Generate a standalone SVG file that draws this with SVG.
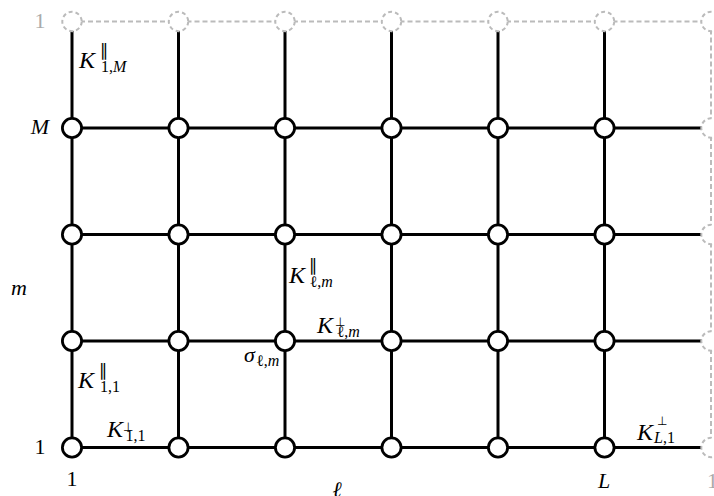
<svg xmlns="http://www.w3.org/2000/svg" width="714" height="496" viewBox="0 0 714 496">
<style>
.e{stroke:#000;stroke-width:3;fill:none}
.ed{stroke:#bbb;stroke-width:2;stroke-dasharray:5 3;fill:none}
.n{fill:#fff;stroke:#000;stroke-width:2.8}
.d{fill:#fff;stroke:#bbb;stroke-width:2;stroke-dasharray:4 3}
.t{font-family:"Liberation Serif","Times New Roman",serif;font-size:22px;fill:#000}
.i{font-style:italic}
.g{fill:#aaa}
.k{font-family:"Liberation Serif","Times New Roman",serif;font-size:24px;font-style:italic;fill:#000}
.sub{font-size:16px}
.up{font-style:normal;font-size:12px;font-family:"DejaVu Sans",sans-serif}
.par{font-style:normal;font-size:17px;font-family:"DejaVu Sans",sans-serif}
.r{font-style:normal}
</style>
<g id="connectors">
<g id="dashed-edges">
<line class="ed" x1="72" y1="21.5" x2="178.5" y2="21.5"/>
<line class="ed" x1="178.5" y1="21.5" x2="285" y2="21.5"/>
<line class="ed" x1="285" y1="21.5" x2="391.5" y2="21.5"/>
<line class="ed" x1="391.5" y1="21.5" x2="498" y2="21.5"/>
<line class="ed" x1="498" y1="21.5" x2="604.5" y2="21.5"/>
<line class="ed" x1="604.5" y1="21.5" x2="711" y2="21.5"/>
<line class="ed" x1="711" y1="21.5" x2="711" y2="128"/>
<line class="ed" x1="711" y1="128" x2="711" y2="234.5"/>
<line class="ed" x1="711" y1="234.5" x2="711" y2="341"/>
<line class="ed" x1="711" y1="341" x2="711" y2="447.5"/>
</g>
<g id="vertical-edges">
<line class="e" x1="72" y1="21.5" x2="72" y2="128"/>
<line class="e" x1="72" y1="128" x2="72" y2="234.5"/>
<line class="e" x1="72" y1="234.5" x2="72" y2="341"/>
<line class="e" x1="72" y1="341" x2="72" y2="447.5"/>
<line class="e" x1="178.5" y1="21.5" x2="178.5" y2="128"/>
<line class="e" x1="178.5" y1="128" x2="178.5" y2="234.5"/>
<line class="e" x1="178.5" y1="234.5" x2="178.5" y2="341"/>
<line class="e" x1="178.5" y1="341" x2="178.5" y2="447.5"/>
<line class="e" x1="285" y1="21.5" x2="285" y2="128"/>
<line class="e" x1="285" y1="128" x2="285" y2="234.5"/>
<line class="e" x1="285" y1="234.5" x2="285" y2="341"/>
<line class="e" x1="285" y1="341" x2="285" y2="447.5"/>
<line class="e" x1="391.5" y1="21.5" x2="391.5" y2="128"/>
<line class="e" x1="391.5" y1="128" x2="391.5" y2="234.5"/>
<line class="e" x1="391.5" y1="234.5" x2="391.5" y2="341"/>
<line class="e" x1="391.5" y1="341" x2="391.5" y2="447.5"/>
<line class="e" x1="498" y1="21.5" x2="498" y2="128"/>
<line class="e" x1="498" y1="128" x2="498" y2="234.5"/>
<line class="e" x1="498" y1="234.5" x2="498" y2="341"/>
<line class="e" x1="498" y1="341" x2="498" y2="447.5"/>
<line class="e" x1="604.5" y1="21.5" x2="604.5" y2="128"/>
<line class="e" x1="604.5" y1="128" x2="604.5" y2="234.5"/>
<line class="e" x1="604.5" y1="234.5" x2="604.5" y2="341"/>
<line class="e" x1="604.5" y1="341" x2="604.5" y2="447.5"/>
</g>
<g id="horizontal-edges">
<line class="e" x1="72" y1="128" x2="178.5" y2="128"/>
<line class="e" x1="178.5" y1="128" x2="285" y2="128"/>
<line class="e" x1="285" y1="128" x2="391.5" y2="128"/>
<line class="e" x1="391.5" y1="128" x2="498" y2="128"/>
<line class="e" x1="498" y1="128" x2="604.5" y2="128"/>
<line class="e" x1="604.5" y1="128" x2="711" y2="128"/>
<line class="e" x1="72" y1="234.5" x2="178.5" y2="234.5"/>
<line class="e" x1="178.5" y1="234.5" x2="285" y2="234.5"/>
<line class="e" x1="285" y1="234.5" x2="391.5" y2="234.5"/>
<line class="e" x1="391.5" y1="234.5" x2="498" y2="234.5"/>
<line class="e" x1="498" y1="234.5" x2="604.5" y2="234.5"/>
<line class="e" x1="604.5" y1="234.5" x2="711" y2="234.5"/>
<line class="e" x1="72" y1="341" x2="178.5" y2="341"/>
<line class="e" x1="178.5" y1="341" x2="285" y2="341"/>
<line class="e" x1="285" y1="341" x2="391.5" y2="341"/>
<line class="e" x1="391.5" y1="341" x2="498" y2="341"/>
<line class="e" x1="498" y1="341" x2="604.5" y2="341"/>
<line class="e" x1="604.5" y1="341" x2="711" y2="341"/>
<line class="e" x1="72" y1="447.5" x2="178.5" y2="447.5"/>
<line class="e" x1="178.5" y1="447.5" x2="285" y2="447.5"/>
<line class="e" x1="285" y1="447.5" x2="391.5" y2="447.5"/>
<line class="e" x1="391.5" y1="447.5" x2="498" y2="447.5"/>
<line class="e" x1="498" y1="447.5" x2="604.5" y2="447.5"/>
<line class="e" x1="604.5" y1="447.5" x2="711" y2="447.5"/>
</g>
</g>
<g id="ghost-nodes">
<g id="g-top-1"><circle class="d" cx="72" cy="21.5" r="9.7"/></g>
<g id="g-top-2"><circle class="d" cx="178.5" cy="21.5" r="9.7"/></g>
<g id="g-top-3"><circle class="d" cx="285" cy="21.5" r="9.7"/></g>
<g id="g-top-4"><circle class="d" cx="391.5" cy="21.5" r="9.7"/></g>
<g id="g-top-5"><circle class="d" cx="498" cy="21.5" r="9.7"/></g>
<g id="g-top-6"><circle class="d" cx="604.5" cy="21.5" r="9.7"/></g>
<g id="g-corner"><circle class="d" cx="711" cy="21.5" r="9.7"/></g>
<g id="g-right-M"><circle class="d" cx="711" cy="128" r="9.7"/></g>
<g id="g-right-3"><circle class="d" cx="711" cy="234.5" r="9.7"/></g>
<g id="g-right-2"><circle class="d" cx="711" cy="341" r="9.7"/></g>
<g id="g-right-1"><circle class="d" cx="711" cy="447.5" r="9.7"/></g>
</g>
<g id="nodes">
<g id="n-1-4"><circle class="n" cx="72" cy="128" r="9.6"/></g>
<g id="n-2-4"><circle class="n" cx="178.5" cy="128" r="9.6"/></g>
<g id="n-3-4"><circle class="n" cx="285" cy="128" r="9.6"/></g>
<g id="n-4-4"><circle class="n" cx="391.5" cy="128" r="9.6"/></g>
<g id="n-5-4"><circle class="n" cx="498" cy="128" r="9.6"/></g>
<g id="n-6-4"><circle class="n" cx="604.5" cy="128" r="9.6"/></g>
<g id="n-1-3"><circle class="n" cx="72" cy="234.5" r="9.6"/></g>
<g id="n-2-3"><circle class="n" cx="178.5" cy="234.5" r="9.6"/></g>
<g id="n-3-3"><circle class="n" cx="285" cy="234.5" r="9.6"/></g>
<g id="n-4-3"><circle class="n" cx="391.5" cy="234.5" r="9.6"/></g>
<g id="n-5-3"><circle class="n" cx="498" cy="234.5" r="9.6"/></g>
<g id="n-6-3"><circle class="n" cx="604.5" cy="234.5" r="9.6"/></g>
<g id="n-1-2"><circle class="n" cx="72" cy="341" r="9.6"/></g>
<g id="n-2-2"><circle class="n" cx="178.5" cy="341" r="9.6"/></g>
<g id="n-3-2"><circle class="n" cx="285" cy="341" r="9.6"/></g>
<g id="n-4-2"><circle class="n" cx="391.5" cy="341" r="9.6"/></g>
<g id="n-5-2"><circle class="n" cx="498" cy="341" r="9.6"/></g>
<g id="n-6-2"><circle class="n" cx="604.5" cy="341" r="9.6"/></g>
<g id="n-1-1"><circle class="n" cx="72" cy="447.5" r="9.6"/></g>
<g id="n-2-1"><circle class="n" cx="178.5" cy="447.5" r="9.6"/></g>
<g id="n-3-1"><circle class="n" cx="285" cy="447.5" r="9.6"/></g>
<g id="n-4-1"><circle class="n" cx="391.5" cy="447.5" r="9.6"/></g>
<g id="n-5-1"><circle class="n" cx="498" cy="447.5" r="9.6"/></g>
<g id="n-6-1"><circle class="n" cx="604.5" cy="447.5" r="9.6"/></g>
</g>
<g id="axis-labels">
<text class="t g" x="40" y="28" text-anchor="middle">1</text>
<text class="t i" x="40" y="134" text-anchor="middle">M</text>
<text class="t i" x="19" y="295" text-anchor="middle">m</text>
<text class="t" x="40" y="454" text-anchor="middle">1</text>
<text class="t" x="72" y="486" text-anchor="middle">1</text>
<text class="t i" x="337" y="497" text-anchor="middle">ℓ</text>
<text class="t i" x="604" y="488" text-anchor="middle">L</text>
<text class="t g" x="707" y="488">1</text>
</g>
<g id="edge-labels">
<text class="k" x="79" y="68">K<tspan class="par" x="100" y="56">∥</tspan><tspan class="sub r" x="101" y="72">1,</tspan><tspan class="sub">M</tspan></text>
<text class="k" x="78" y="388">K<tspan class="par" x="99" y="376">∥</tspan><tspan class="sub r" x="100" y="392">1,1</tspan></text>
<text class="k" x="107" y="437">K<tspan class="up" x="123" y="431">⊥</tspan><tspan class="sub r" x="125.5" y="441">1,1</tspan></text>
<text class="k" x="289" y="283">K<tspan class="par" x="309" y="271">∥</tspan><tspan class="sub r" x="309.5" y="287">ℓ,</tspan><tspan class="sub">m</tspan></text>
<text class="k" x="317" y="333">K<tspan class="up" x="335" y="326">⊥</tspan><tspan class="sub r" x="336.5" y="337">ℓ,</tspan><tspan class="sub">m</tspan></text>
<text class="k" x="244" y="362" style="font-size:22px">σ<tspan class="sub r" x="256" y="366">ℓ,</tspan><tspan class="sub">m</tspan></text>
<text class="k" x="637" y="440">K<tspan class="up" x="657" y="425">⊥</tspan><tspan class="sub" x="654" y="443">L</tspan><tspan class="sub r">,1</tspan></text>
</g>
</svg>
